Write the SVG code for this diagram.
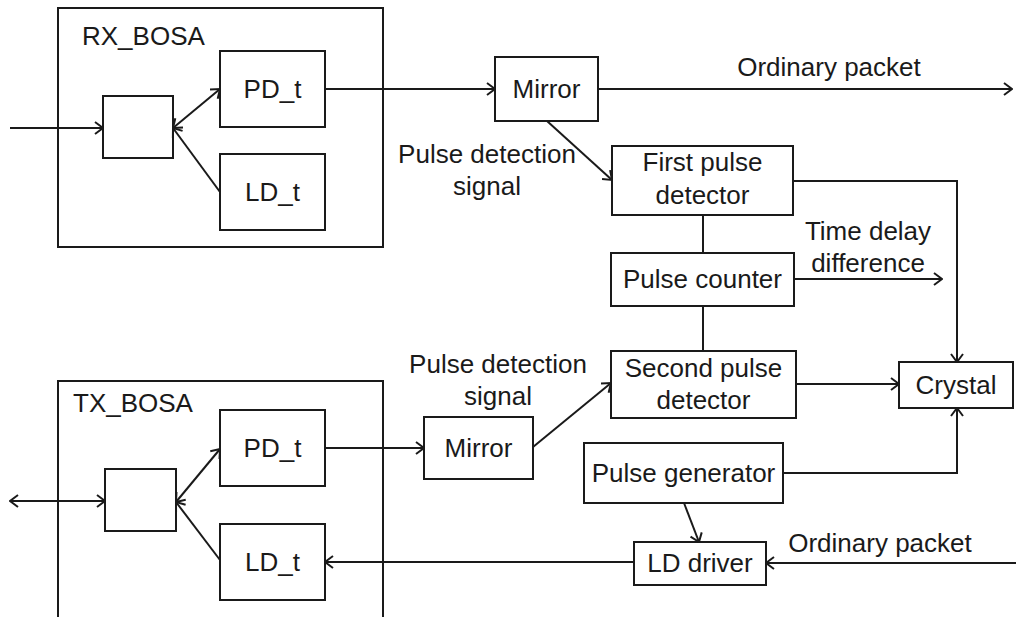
<svg xmlns="http://www.w3.org/2000/svg" width="1016" height="617" viewBox="0 0 1016 617">
  <style>
    .box { fill: #ffffff; stroke: #1a1a1a; stroke-width: 2; }
    .frame { fill: none; stroke: #1a1a1a; stroke-width: 2; }
    .wire { fill: none; stroke: #1a1a1a; stroke-width: 2; }
    text { font-family: "Liberation Sans", Arial, sans-serif; font-size: 26px; fill: #1a1a1a; }
    .c { text-anchor: middle; }
  </style>
  <defs>
    <marker id="arrow" viewBox="0 0 10 14" refX="9" refY="7" markerWidth="10" markerHeight="14" markerUnits="userSpaceOnUse" orient="auto-start-reverse">
      <path d="M1,1 L9,7 L1,13" fill="none" stroke="#1a1a1a" stroke-width="2"/>
    </marker>
  </defs>
  <rect width="1016" height="617" fill="#ffffff"/>

  <!-- receive optical sub-assembly -->
  <g id="rx_bosa">
    <rect class="frame" x="58" y="8" width="325" height="239"/>
    <text x="82" y="45">RX_BOSA</text>
  </g>
  <g id="rx_split"><rect class="box" x="103" y="96" width="70" height="62"/></g>
  <g id="rx_pd"><rect class="box" x="220" y="51" width="105" height="76"/><text class="c" x="272.5" y="98">PD_t</text></g>
  <g id="rx_ld"><rect class="box" x="220" y="154" width="105" height="76"/><text class="c" x="272.5" y="201">LD_t</text></g>

  <!-- transmit optical sub-assembly -->
  <g id="tx_bosa">
    <path class="frame" d="M58,620 V381 H383 V620"/>
    <text x="73" y="412">TX_BOSA</text>
  </g>
  <g id="tx_split"><rect class="box" x="105" y="469" width="71" height="62"/></g>
  <g id="tx_pd"><rect class="box" x="220" y="410" width="105" height="76"/><text class="c" x="272.5" y="457">PD_t</text></g>
  <g id="tx_ld"><rect class="box" x="220" y="524" width="105" height="76"/><text class="c" x="272.5" y="571">LD_t</text></g>

  <!-- processing blocks -->
  <g id="mirror_rx"><rect class="box" x="495" y="57" width="103" height="64"/><text class="c" x="546.5" y="98">Mirror</text></g>
  <g id="mirror_tx"><rect class="box" x="424" y="417" width="109" height="62"/><text class="c" x="478.5" y="457">Mirror</text></g>
  <g id="first_detector"><rect class="box" x="612" y="146" width="181" height="69"/><text class="c" x="702.5" y="171">First pulse</text><text class="c" x="702.5" y="204">detector</text></g>
  <g id="pulse_counter"><rect class="box" x="611" y="253" width="183" height="53"/><text class="c" x="702.5" y="288">Pulse counter</text></g>
  <g id="second_detector"><rect class="box" x="611" y="351" width="185" height="67"/><text class="c" x="703.5" y="377">Second pulse</text><text class="c" x="703.5" y="409">detector</text></g>
  <g id="crystal"><rect class="box" x="899" y="362" width="114" height="46"/><text class="c" x="956" y="394">Crystal</text></g>
  <g id="pulse_generator"><rect class="box" x="584" y="443" width="199" height="60"/><text class="c" x="683.5" y="482">Pulse generator</text></g>
  <g id="ld_driver"><rect class="box" x="634" y="542" width="132" height="43"/><text class="c" x="700" y="572">LD driver</text></g>

  <!-- connectors -->
  <g id="connectors">
    <path class="wire" d="M10,128 H103" marker-end="url(#arrow)"/>
    <path class="wire" d="M173,128 L220,89" marker-start="url(#arrow)" marker-end="url(#arrow)"/>
    <path class="wire" d="M220,192 L173,128" marker-end="url(#arrow)"/>
    <path class="wire" d="M325,89 H495" marker-end="url(#arrow)"/>
    <path class="wire" d="M598,89 H1012" marker-end="url(#arrow)"/>
    <path class="wire" d="M547,121 L612,180" marker-end="url(#arrow)"/>
    <path class="wire" d="M703,215 V253"/>
    <path class="wire" d="M703,306 V351"/>
    <path class="wire" d="M794,279 H942" marker-end="url(#arrow)"/>
    <path class="wire" d="M793,181 H957 V362" marker-end="url(#arrow)"/>
    <path class="wire" d="M796,384 H899" marker-end="url(#arrow)"/>
    <path class="wire" d="M783,473 H957 V408" marker-end="url(#arrow)"/>
    <path class="wire" d="M684,503 L699,542" marker-end="url(#arrow)"/>
    <path class="wire" d="M1016,563 H766" marker-end="url(#arrow)"/>
    <path class="wire" d="M634,562 H325" marker-end="url(#arrow)"/>
    <path class="wire" d="M325,448 H424" marker-end="url(#arrow)"/>
    <path class="wire" d="M533,447 L611,383" marker-end="url(#arrow)"/>
    <path class="wire" d="M10,501 H105" marker-start="url(#arrow)" marker-end="url(#arrow)"/>
    <path class="wire" d="M176,502 L220,449" marker-start="url(#arrow)" marker-end="url(#arrow)"/>
    <path class="wire" d="M220,560 L176,502" marker-end="url(#arrow)"/>
  </g>

  <!-- connector labels -->
  <g id="labels">
    <text class="c" x="829" y="76">Ordinary packet</text>
    <text class="c" x="487" y="163">Pulse detection</text>
    <text class="c" x="487" y="195">signal</text>
    <text class="c" x="868" y="240">Time delay</text>
    <text class="c" x="868" y="272">difference</text>
    <text class="c" x="498" y="373">Pulse detection</text>
    <text class="c" x="498" y="405">signal</text>
    <text class="c" x="880" y="552">Ordinary packet</text>
  </g>
</svg>
